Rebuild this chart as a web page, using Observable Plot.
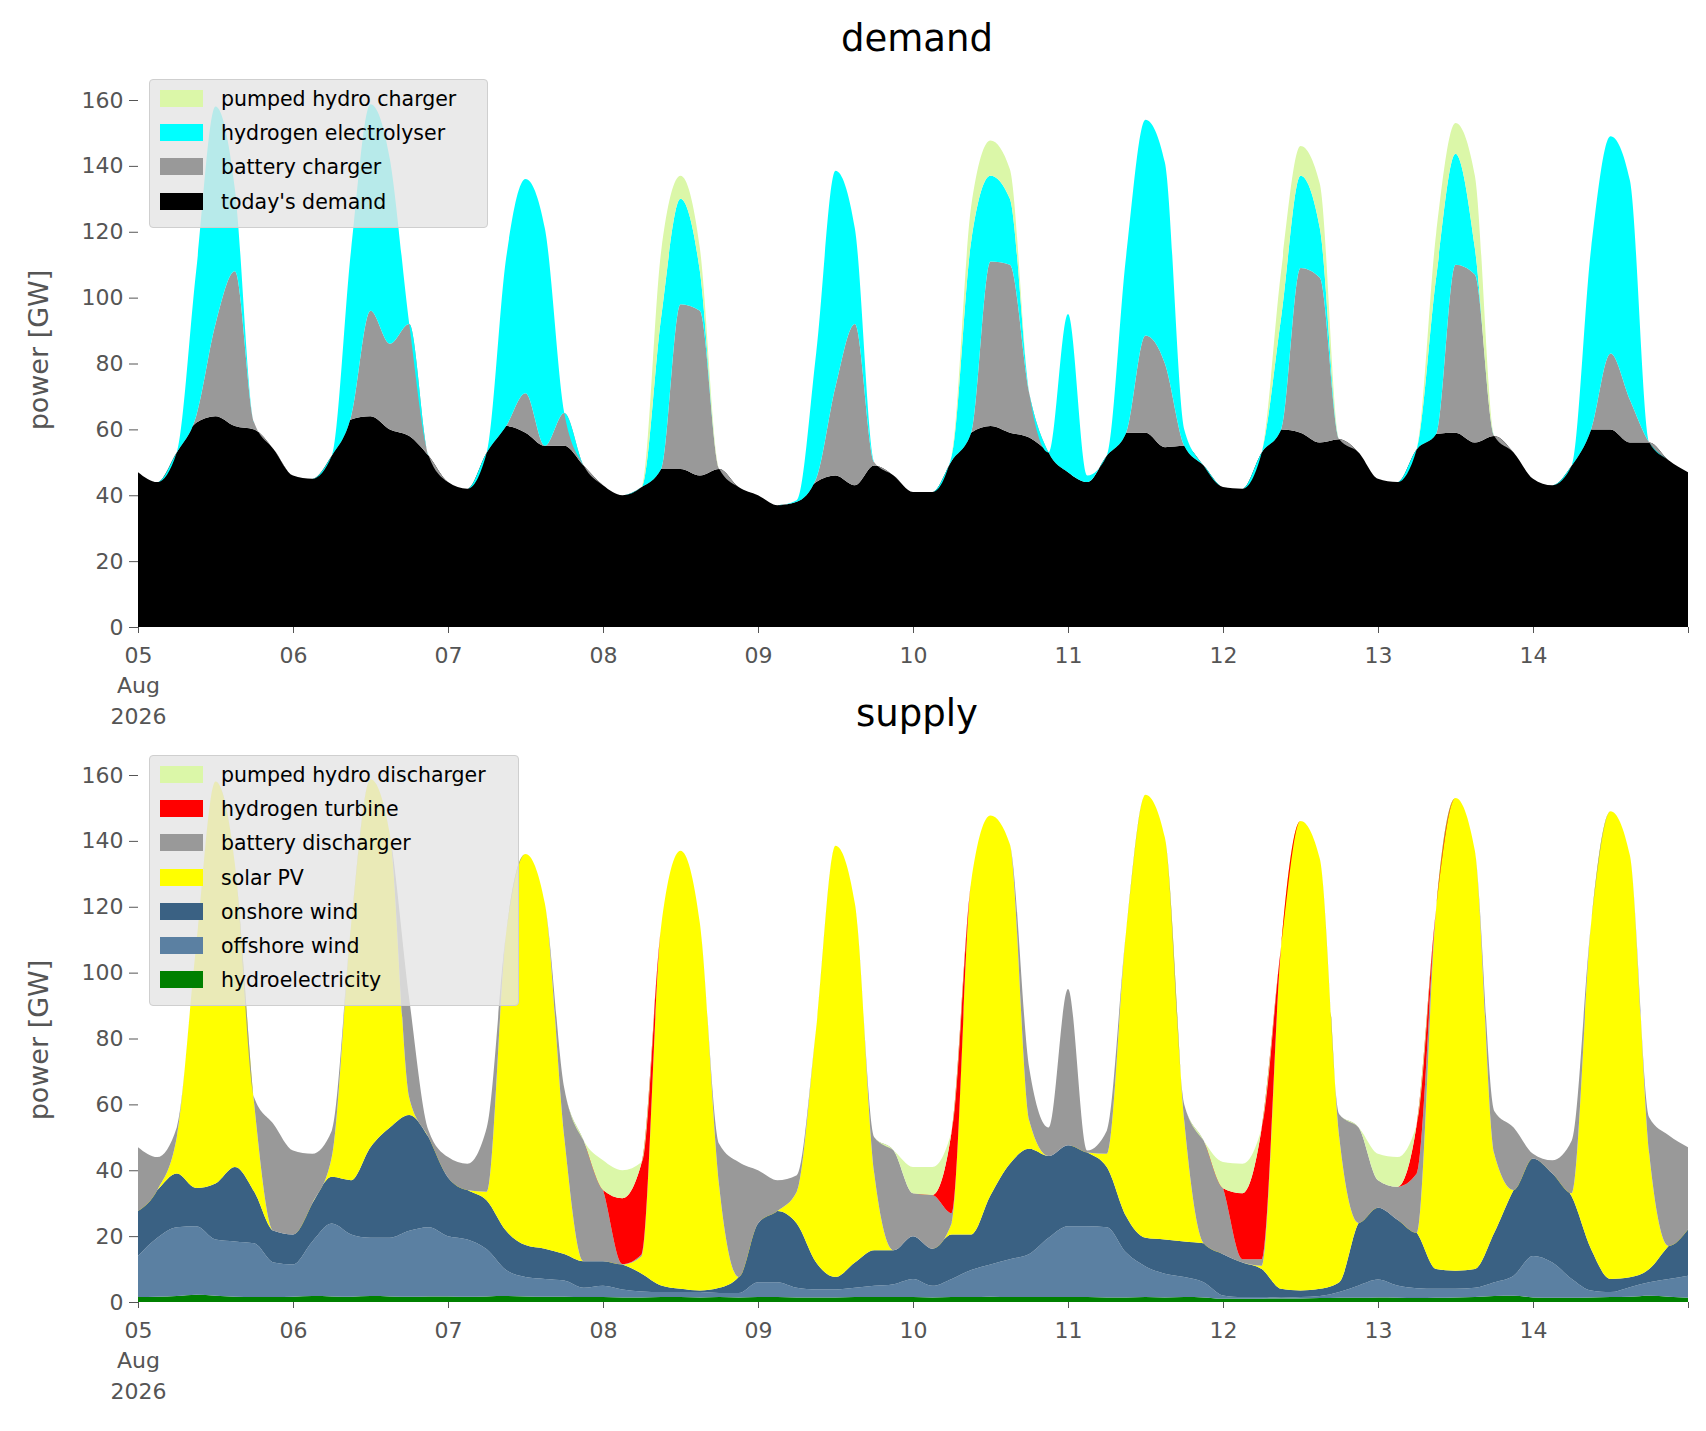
<!DOCTYPE html>
<html><head><meta charset="utf-8">
<script src="https://cdn.jsdelivr.net/npm/d3@7"></script>
<script src="https://cdn.jsdelivr.net/npm/@observablehq/plot@0.6"></script>
<style>
body{margin:0;background:#fff;font-family:"DejaVu Sans",sans-serif;}
#wrap{position:relative;width:1706px;height:1431px;overflow:hidden;}
.title{position:absolute;font-size:37px;color:#000;transform:translate(-50%,-50%);white-space:nowrap;}
.ylab{position:absolute;font-size:27px;color:#555;transform:translate(-50%,-50%) rotate(-90deg);white-space:nowrap;}
.legend{position:absolute;background:rgba(229,229,229,0.8);border:1px solid #cfcfcf;border-radius:4px;}
.row{position:absolute;left:0;height:20px;font-size:20.5px;color:#000;white-space:nowrap;}
.sw{position:absolute;left:10px;width:43px;height:17px;}
.lt{position:absolute;left:71px;top:-3px;}
</style></head><body><div id="wrap"></div>
<script>
// 3-hourly samples from 2026-08-05 00:00 to 2026-08-15 00:00 (81 points)
// ---- demand (cumulative tops, GW) ----
const todaysDemand = [
47,44,53,62,64,61,60,54, 46,45,52,63,64,60,58,52, 44,42,53,61,59,55,55,49,
43,40,42.5,48,48,46,48,42.5, 40,37,38,44,46,43,49,46, 41,41,50.5,59,61,59,57.5,53,
47,44,52,59,59,54.6,55,49, 42.5,42,53,60,59,56,57,53, 45,44,54,58.6,59,56,58,53,
45,43,49,60,60,56,56,50.6, 47];
const batteryChargerTop = [
47,44,53,64,92,108,62,54, 46,45,52,64,96,86,92,52, 44,42,53,61,71,55,65,49,
43,40,42.5,48,98,96,48,42.5, 40,37,38,45,73,92,50,46, 41,41,50.5,59,111,110,71,53,
47,44,52,59,88.5,80,55,49, 42.5,42,53,60,109,106,57,53, 45,44,54,58.6,110,107,58,53,
45,43,49,60,83,69,56,50.6, 47];
const electrolyserTop = [
47,44,53,108,158,133,62,54, 46,45,52,114.6,158.7,142,92,52, 44,42,53,112,136,121,65,49,
43,40,42.5,94,130,108,48,42.5, 40,37,38.5,83,138.5,121,50,46, 41,41,52,117,137,130,71,53,
95,46,52,112.6,154,141,60,49, 42.5,42,53,94,137,121,57,53, 45,44,54,106,143.7,115,58,53,
45,43,49,115,149,135.6,56,50.6, 47];
const pumpedChargerTop = [
47,44,53,108,158,133,62,54, 46,45,52,114.6,158.7,142,92,52, 44,42,53,112,136,121,65,49,
43,40,42.5,114,137,115,48,42.5, 40,37,38.5,83,138.5,121,50,46, 41,41,52,127.6,147.7,139,71,53,
95,46,52,112.6,154,141,60,49, 42.5,42,53,108,146,134.5,57,53, 45,44,54,119.5,153,137,58,53,
45,43,49,115,149,135.6,56,50.6, 47];
// ---- supply ----
const hydroTop = [
1.5,1.6,1.8,2.2,1.9,1.6,1.5,1.5, 1.6,1.8,1.7,1.6,1.8,1.7,1.6,1.7, 1.7,1.6,1.7,1.8,1.7,1.6,1.6,1.5,
1.5,1.4,1.4,1.5,1.5,1.4,1.5,1.4, 1.5,1.5,1.4,1.4,1.4,1.5,1.5,1.5, 1.5,1.4,1.5,1.5,1.6,1.5,1.5,1.5,
1.5,1.5,1.4,1.4,1.5,1.4,1.5,1.4, 1.0,1.0,1.0,1.1,1.1,1.2,1.3,1.3, 1.4,1.3,1.2,1.3,1.4,1.5,1.8,1.9,
1.4,1.3,1.3,1.4,1.5,1.6,1.9,1.6, 1.3];
const offshoreTop = [
14,19.5,22.7,23,19,18.4,17.8,12, 11.4,18.4,23.8,20.5,19.5,19.5,21.6,22.7, 20,19,16,9.7,7.6,7,6.5,4.3,
4.9,3.8,3.2,3,3,3,2.7,2.7, 6,6,4.3,3.8,3.8,4.3,4.9,5.4, 7,4.9,7,9.7,11.4,13,14.6,19.5,
23,23,22.7,15,10.8,8.6,7.6,6, 2,1.5,1.5,1.3,1.5,1.8,3,5, 6.8,5,4.2,4,4,4.3,6,8,
14,12,7,3.5,3,4.5,6,7, 8];
const onshoreTop = [
27.6,34,39,34.6,36,41,33.5,21.6, 20.5,30,38,37,47,53,56.8,50, 37.8,34,30.8,21.6,17.3,16.2,14.6,12.4,
12.4,11.4,8.6,5,4,3.5,4.3,7.6, 23.8,27.6,23.8,12,7.6,12,15.7,15.7, 20,16.2,20.5,20.5,32.4,42,46.5,44.3,
47.6,45.4,41,26,19.5,19,18.4,17.8, 14.5,12,10,4,3.5,4,6,24, 28.6,25,21,10,9.5,10,21,34,
43.6,39,32,16,7,7.5,10,17, 22];
const solarTop = [
27.6,34,50,108,158,133,60,21.6, 20.5,30,44,114.6,158.7,142,62,50, 37.8,34,33.5,112,136,121,50,12.4,
12.4,11.4,14,114,137,115,35,7.6, 23.8,27.6,33.5,83,138.5,121,39,15.7, 20,16.2,24,127.6,147.7,139,55,44.3,
47.6,45.4,45,112.6,154,141,55,17.8, 14.5,12,11,108,146,134.5,50,24, 28.6,25,21,119.5,153,137,45,34,
43.6,39,33,115,149,135.6,45,17, 22];
const pumpedDischarge = [
0,0,0,0,0,0,0,0, 0,0,0,0,0,0,0,0, 0,0,0,0,0,0,0,0,
9,8.5,0,0,0,0,0,0, 0,0,0,0,0,0,0,0, 8,8.5,0,0,0,0,0,0,
0,0,0,0,0,0,0,0, 8,9,0,0,0,0,0,0, 8,9,0,0,0,0,0,0,
0,0,0,0,0,0,0,0, 0];
const hydrogenTurbine = [
0,0,0,0,0,0,0,0, 0,0,0,0,0,0,0,0, 0,0,0,0,0,0,0,0,
0,20,28,0,0,0,0,0, 0,0,0,0,0,0,0,0, 0,0,25,0,0,0,0,0,
0,0,0,0,0,0,0,0, 0,20,40,0,0,0,0,0, 0,0,15,0,0,0,0,0,
0,0,0,0,0,0,0,0, 0];
const dayTicks = ["05","06","07","08","09","10","11","12","13","14",""];

const t0 = Date.UTC(2026,7,5);
const times = todaysDemand.map((_,i)=>new Date(t0+i*3*3600e3));
const tickDates = dayTicks.map((_,i)=>new Date(t0+i*86400e3));
const fmt = d => { const i = Math.round((d - t0)/86400e3); return i===0 ? "05\nAug\n2026" : dayTicks[i]; };

function bands(layers){
  return layers.map(L=>Plot.areaY(times.map((t,i)=>({t,lo:L.lo[i],hi:L.hi[i]})),{x:"t",y1:"lo",y2:"hi",fill:L.fill,curve:"monotone-x"}));
}
function chart(layers,height,mb){
  return Plot.plot({
    width:1706,height,marginLeft:138,marginRight:18,marginTop:40,marginBottom:mb,
    style:{fontFamily:"DejaVu Sans",fontSize:"22px",color:"#555",background:"transparent",overflow:"visible"},
    x:{type:"utc",domain:[new Date(t0),new Date(t0+10*86400e3)]},
    y:{domain:[0,160]},
    marks:[
      ...bands(layers),
      Plot.axisX({ticks:tickDates,tickFormat:fmt,tickSize:6,tickPadding:8,fontSize:22,lineHeight:1.38,label:null,stroke:"#555"}),
      Plot.axisY({ticks:d3.range(0,161,20),tickSize:9,tickPadding:6,fontSize:22,label:null,stroke:"#555"})
    ]});
}
const zero = todaysDemand.map(()=>0);
const demandLayers=[
  {lo:zero,hi:todaysDemand,fill:"#000000"},
  {lo:todaysDemand,hi:batteryChargerTop,fill:"#999999"},
  {lo:batteryChargerTop,hi:electrolyserTop,fill:"#00ffff"},
  {lo:electrolyserTop,hi:pumpedChargerTop,fill:"#dbf7a8"}];
const h2Top = pumpedChargerTop.map((v,i)=>v-pumpedDischarge[i]);
const batteryTop = h2Top.map((v,i)=>v-hydrogenTurbine[i]);
const supplyLayers=[
  {lo:zero,hi:hydroTop,fill:"#008000"},
  {lo:hydroTop,hi:offshoreTop,fill:"#5b80a2"},
  {lo:offshoreTop,hi:onshoreTop,fill:"#3a6183"},
  {lo:onshoreTop,hi:solarTop,fill:"#ffff00"},
  {lo:solarTop,hi:batteryTop,fill:"#999999"},
  {lo:batteryTop,hi:h2Top,fill:"#ff0000"},
  {lo:h2Top,hi:pumpedChargerTop,fill:"#dbf7a8"}];

const wrap=document.getElementById("wrap");
function place(el,top){el.style.position="absolute";el.style.left="0px";el.style.top=top+"px";wrap.appendChild(el);}
place(chart(demandLayers,700,133),60);
place(chart(supplyLayers,696,129),735);

function addDiv(cls,html,x,y){const d=document.createElement("div");d.className=cls;d.innerHTML=html;d.style.left=x+"px";d.style.top=y+"px";wrap.appendChild(d);return d;}
addDiv("title","demand",917,38);
addDiv("title","supply",917,713);
addDiv("ylab","power [GW]",38,350);
addDiv("ylab","power [GW]",38,1040);
function legend(items,x,y,w){
  const L=addDiv("legend","",x,y);L.style.width=w+"px";L.style.height=(items.length*34.2+10)+"px";
  items.forEach((it,i)=>{const r=document.createElement("div");r.className="row";r.style.top=(10+i*34.2)+"px";
    r.innerHTML=`<div class="sw" style="background:${it[1]}"></div><div class="lt">${it[0]}</div>`;L.appendChild(r);});
}
legend([["pumped hydro charger","#dbf7a8"],["hydrogen electrolyser","#00ffff"],["battery charger","#999999"],["today's demand","#000000"]],149,79,337);
legend([["pumped hydro discharger","#dbf7a8"],["hydrogen turbine","#ff0000"],["battery discharger","#999999"],["solar PV","#ffff00"],["onshore wind","#3a6183"],["offshore wind","#5b80a2"],["hydroelectricity","#008000"]],149,755,368);
</script></body></html>
